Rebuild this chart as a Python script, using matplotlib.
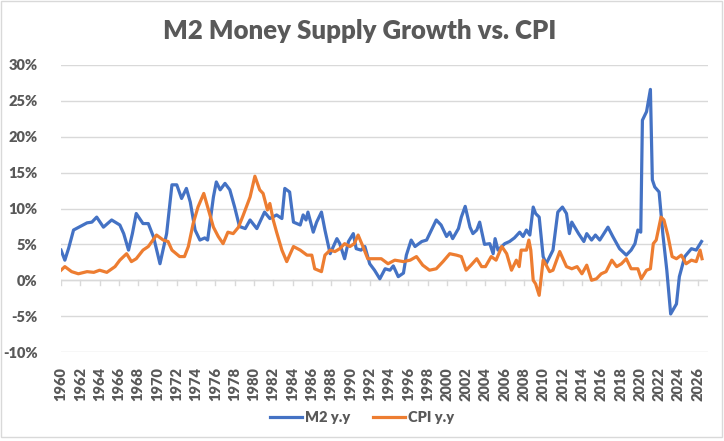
import matplotlib
matplotlib.use("Agg")
import matplotlib.pyplot as plt
from matplotlib.patches import Rectangle
from matplotlib.ticker import FuncFormatter

# values (year, % y/y)
m2_years = [1960.0, 1960.4, 1960.8, 1961.3, 1962.0, 1962.7, 1963.2, 1963.7, 1964.4, 1965.25,
            1966.1, 1966.5, 1967.0, 1967.4, 1967.8, 1968.5, 1969.05, 1969.6, 1970.26, 1970.95,
            1971.5, 1972.0, 1972.5, 1973.0, 1973.4, 1973.9, 1974.4, 1974.9, 1975.2, 1975.8,
            1976.1, 1976.5, 1977.0, 1977.5, 1978.0, 1978.5, 1979.1, 1979.6, 1980.3, 1981.1,
            1981.65, 1982.35, 1982.9, 1983.2, 1983.7, 1984.1, 1984.8, 1985.1, 1985.4, 1985.6,
            1986.15, 1986.5, 1987.0, 1987.36, 1987.9, 1988.6, 1988.9, 1989.4, 1989.8, 1990.3,
            1990.6, 1991.1, 1991.5, 1992.0, 1992.5, 1993.05, 1993.6, 1994.1, 1994.45, 1994.96,
            1995.5, 1995.8, 1996.3, 1996.7, 1997.4, 1997.9, 1998.4, 1998.9, 1999.4, 1999.97,
            2000.3, 2000.6, 2001.2, 2001.5, 2001.9, 2002.4, 2002.7, 2003.1, 2003.4, 2003.9,
            2004.45, 2004.8, 2005.0, 2005.3, 2006.0, 2006.5, 2007.0, 2007.55, 2007.9, 2008.25,
            2008.6, 2008.95, 2009.2, 2009.57, 2009.98, 2010.3, 2011.0, 2011.5, 2011.98, 2012.4,
            2012.7, 2012.95, 2013.65, 2014.2, 2014.5, 2015.0, 2015.4, 2015.85, 2016.7, 2017.2,
            2017.9, 2018.6, 2019.1, 2019.5, 2019.8, 2020.1, 2020.27, 2020.7, 2021.1, 2021.3,
            2021.55, 2022.0, 2022.4, 2022.8, 2023.2, 2023.8, 2024.1, 2024.66, 2025.35, 2025.85,
            2026.4]
m2_yy = [4.2, 2.8, 4.5, 7.0, 7.5, 8.0, 8.1, 8.8, 7.4, 8.4,
         7.7, 6.5, 4.2, 6.5, 9.3, 7.9, 7.9, 6.0, 2.3, 6.5,
         13.3, 13.3, 11.4, 12.8, 10.9, 7.0, 5.6, 5.9, 5.6, 11.6,
         13.7, 12.6, 13.5, 12.6, 10.2, 7.5, 7.2, 8.4, 7.2, 9.5,
         8.6, 9.1, 8.6, 12.8, 12.3, 8.1, 7.7, 9.1, 8.4, 9.5,
         6.7, 8.1, 9.5, 7.0, 3.7, 5.8, 5.1, 3.0, 5.4, 6.5,
         4.4, 4.2, 4.7, 2.3, 1.4, 0.2, 1.6, 1.4, 2.0, 0.5,
         1.0, 3.5, 5.6, 4.7, 5.4, 5.6, 7.0, 8.4, 7.7, 6.1,
         6.7, 5.8, 7.2, 8.8, 10.3, 7.4, 6.5, 7.0, 8.1, 5.0,
         5.1, 3.7, 5.8, 4.2, 5.1, 5.4, 5.9, 6.7, 6.1, 7.0,
         6.3, 10.2, 9.3, 8.8, 3.3, 2.3, 4.2, 9.5, 10.2, 9.3,
         6.5, 8.1, 6.5, 5.4, 6.5, 5.6, 6.3, 5.6, 7.4, 6.1,
         4.4, 3.5, 4.2, 5.1, 7.0, 6.7, 22.3, 23.5, 26.6, 14.0,
         13.0, 12.3, 6.3, 1.4, -4.7, -3.3, 0.5, 3.3, 4.4, 4.2,
         5.4]

cpi_years = [1960.0, 1960.4, 1961.1, 1961.8, 1962.7, 1963.4, 1964.0, 1964.75, 1965.6, 1966.1,
             1966.8, 1967.3, 1967.8, 1968.5, 1969.05, 1969.9, 1970.6, 1971.1, 1971.5, 1972.3,
             1972.8, 1973.2, 1973.7, 1974.2, 1974.8, 1975.2, 1975.8, 1976.3, 1976.8, 1977.3,
             1977.85, 1978.4, 1978.9, 1979.6, 1980.1, 1980.6, 1980.95, 1981.4, 1981.65, 1982.0,
             1982.35, 1982.9, 1983.4, 1984.1, 1984.8, 1985.5, 1986.0, 1986.3, 1987.0, 1987.36,
             1987.9, 1988.4, 1988.9, 1989.4, 1989.95, 1990.4, 1990.8, 1991.3, 1991.8, 1992.35,
             1993.2, 1993.9, 1994.6, 1995.5, 1996.2, 1996.85, 1997.5, 1998.2, 1998.9, 1999.6,
             2000.3, 2001.0, 2001.5, 2002.0, 2002.5, 2003.1, 2003.6, 2004.0, 2004.6, 2005.1,
             2005.7, 2006.2, 2006.7, 2007.2, 2007.5, 2007.7, 2008.25, 2008.5, 2008.7, 2008.95,
             2009.2, 2009.57, 2009.98, 2010.3, 2010.65, 2011.0, 2011.7, 2012.4, 2012.95, 2013.5,
             2014.0, 2014.5, 2015.0, 2015.5, 2016.0, 2016.5, 2017.1, 2017.6, 2018.1, 2018.6,
             2019.1, 2019.8, 2020.15, 2020.7, 2021.1, 2021.4, 2021.7, 2022.2, 2022.5, 2022.9,
             2023.35, 2023.8, 2024.3, 2024.8, 2025.35, 2025.85, 2026.25, 2026.45]
cpi_yy = [1.4, 1.9, 1.2, 0.9, 1.2, 1.1, 1.4, 1.1, 1.9, 2.8,
          3.7, 2.6, 3.0, 4.2, 4.7, 6.3, 5.6, 5.4, 4.2, 3.3,
          3.3, 4.7, 7.9, 10.2, 12.1, 10.2, 7.4, 6.1, 5.1, 6.7,
          6.5, 7.4, 9.1, 11.6, 14.5, 12.6, 12.1, 9.8, 10.7, 8.4,
          6.7, 4.2, 2.6, 4.7, 4.2, 3.5, 3.5, 1.6, 1.2, 3.5,
          4.2, 4.0, 4.4, 5.1, 4.7, 5.1, 6.3, 4.7, 3.0, 3.0,
          3.0, 2.3, 2.8, 2.6, 2.8, 3.3, 2.1, 1.4, 1.6, 2.6,
          3.7, 3.5, 3.3, 1.4, 2.1, 3.0, 1.9, 1.9, 3.3, 2.8,
          4.7, 3.7, 1.4, 2.8, 1.9, 4.2, 4.2, 5.6, 4.2, 0.0,
          -0.5, -2.1, 2.8, 2.1, 1.2, 1.4, 4.0, 1.9, 1.6, 1.9,
          0.9, 2.1, 0.0, 0.2, 0.9, 1.2, 2.8, 1.9, 2.3, 3.0,
          1.6, 1.6, 0.2, 1.4, 1.6, 5.1, 5.6, 8.8, 8.4, 6.3,
          3.3, 3.0, 3.5, 2.3, 2.8, 2.6, 4.2, 3.0]

tick_years = list(range(1960, 2027, 2))

grey = "#595959"
plt.rcParams['font.family'] = ['Lato', 'DejaVu Sans']
WT = 800

W, H = 724, 441
fig = plt.figure(figsize=(W / 100, H / 100), dpi=100)
ax = fig.add_axes([61 / W, 1 - 352 / H, (708 - 61) / W, (352 - 65) / H])

ax.plot(m2_years, m2_yy, color="#4472C4", lw=2.3, label="M2 y.y", solid_joinstyle="round")
ax.plot(cpi_years, cpi_yy, color="#ED7D31", lw=2.3, label="CPI y.y", solid_joinstyle="round")

ax.set_xlim(1960, 2027.07)
ax.set_ylim(-10, 30)
ax.set_yticks(range(-10, 31, 5))
ax.yaxis.set_major_formatter(FuncFormatter(lambda v, p: f"{v:.0f}%"))
ax.grid(axis="y", color="#d9d9d9", lw=1)
ax.axhline(0, color="#d9d9d9", lw=1, zorder=1)
for s in ax.spines.values():
    s.set_visible(False)
ax.tick_params(axis="y", length=0, pad=17, labelsize=10.5, labelcolor=grey)

# tick marks hang below the 0% line, labels sit under the plot
for yr in tick_years:
    ax.plot([yr, yr], [0, -0.7], color="#d9d9d9", lw=1, zorder=1)
ax.set_xticks(tick_years)
ax.set_xticklabels([str(y) for y in tick_years], rotation=90)
ax.tick_params(axis="x", length=0, pad=11, labelsize=10.5, labelcolor=grey)
for lab in ax.get_xticklabels() + ax.get_yticklabels():
    lab.set_fontweight(WT)

fig.text(360 / W, 1 - 31 / H, "M2 Money Supply Growth vs. CPI", ha="center", va="center",
         fontsize=18.5, fontweight=WT, color=grey)

leg = fig.legend(loc="center", bbox_to_anchor=(362 / W, 1 - 418 / H), ncol=2, frameon=False,
                 fontsize=10.5, handlelength=2.2, handletextpad=0.2, columnspacing=1.5)
for t in leg.get_texts():
    t.set_color(grey)
    t.set_fontweight(WT)

fig.patches.append(Rectangle((1 / W, 4 / H), 721 / W, 436 / H, transform=fig.transFigure,
                             fill=False, edgecolor="#d9d9d9", lw=1))

fig.savefig("out.png", dpi=100)
